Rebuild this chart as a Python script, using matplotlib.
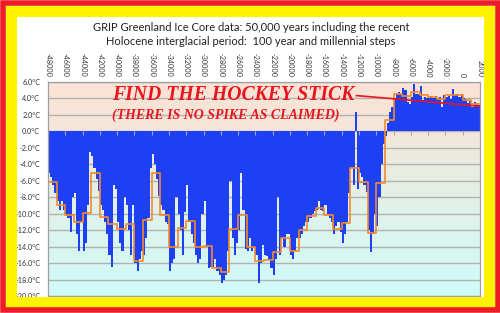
import numpy as np
import matplotlib
matplotlib.use("Agg")
import matplotlib.pyplot as plt
from matplotlib.colors import LinearSegmentedColormap
from matplotlib.patches import Rectangle

# GRIP temperature, 250-year bins starting at -48000
bin_years = np.arange(-48000, 2000, 250)
grip_temp = [
    -5.0, -5.5, -6.5, -7.5,      # -48000
    -8.5, -9.5, -8.5, -9.5,      # -47000
    -10.0, -10.5, -12.2, -8.0,   # -46000
    -7.5, -12.5, -14.5, -11.0,   # -45000
    -14.5, -13.5, -9.0, -2.5,    # -44000
    -3.0, -4.5, -5.8, -7.2,      # -43000
    -9.0, -9.5, -11.0, -12.5,    # -42000
    -15.0, -16.5, -6.5, -7.0,    # -41000
    -11.0, -13.5, -14.5, -8.0,   # -40000
    -9.0, -12.0, -15.0, -9.0,    # -39000
    -16.0, -17.0, -15.5, -14.5,  # -38000
    -15.0, -13.0, -10.5, -4.5,   # -37000
    -2.8, -4.0, -5.8, -7.8,      # -36000
    -9.0, -9.5, -11.0, -11.3,    # -35000
    -17.0, -16.0, -15.5, -8.0,   # -34000
    -10.0, -12.0, -15.0, -9.8,   # -33000
    -6.5, -11.0, -12.5, -13.5,   # -32000
    -15.0, -16.0, -15.5, -10.0,  # -31000
    -8.5, -14.0, -16.6, -16.5,   # -30000
    -16.5, -15.5, -17.0, -17.4,  # -29000
    -18.4, -18.0, -17.5, -14.5,  # -28000
    -6.0, -13.0, -15.0, -13.5,   # -27000
    -12.0, -5.0, -9.5, -14.3,    # -26000
    -14.5, -13.0, -14.5, -14.0,  # -25000
    -15.0, -18.4, -16.0, -13.8,  # -24000
    -15.0, -15.2, -15.6, -16.6,  # -23000
    -17.5, -15.5, -8.0, -15.0,   # -22000
    -13.0, -14.0, -12.5, -12.5,  # -21000
    -15.0, -15.5, -14.5, -13.0,  # -20000
    -13.0, -12.5, -11.5, -11.0,  # -19000
    -11.0, -10.5, -10.0, -9.7,   # -18000
    -9.5, -8.5, -9.5, -9.7,      # -17000
    -9.0, -10.0, -10.5, -11.0,   # -16000
    -12.5, -11.5, -11.0, -12.2,  # -15000
    -13.5, -12.5, -11.0, -7.5,   # -14000
    -4.5, -6.5, 2.4, -7.0,       # -13000
    -5.0, -5.5, -6.5, -7.4,      # -12000
    -12.0, -14.6, -12.5, -10.0,  # -11000
    -11.5, -8.0, -4.0, -1.5,     # -10000
    -0.5, 1.0, 2.3, 3.0,         # -9000
    4.0, 4.6, 4.8, 4.6,          # -8000
    5.3, 5.0, 3.6, 3.3,          # -7000
    4.2, 5.8, 4.6, 4.6,          # -6000
    5.5, 3.8, 4.2, 4.1,          # -5000
    4.2, 4.3, 4.0, 4.3,          # -4000
    4.0, 4.2, 3.0, 4.4,          # -3000
    4.2, 4.3, 3.9, 5.2,          # -2000
    4.4, 4.5, 4.2, 4.5,          # -1000
    4.1, 3.9, 3.5, 3.7,          # 0
    3.0, 3.6, 3.4, 3.2,          # 1000
]

# millennial means
mill_years = np.arange(-48000, 2000, 1000)
mill_temp = [
    -6.2, -8.9, -10.1, -11.0, -9.9, -5.1, -10.4, -11.2, -11.8, -11.2,
    -15.7, -10.8, -5.1, -10.2, -14.1, -11.7, -10.9, -14.1, -13.9, -16.6,
    -17.1, -11.9, -10.2, -14.0, -15.8, -15.6, -14.7, -13.0, -14.5, -12.0,
    -10.3, -9.3, -10.1, -11.8, -11.1, -4.5, -6.1, -12.3, -6.3, 1.4,
    4.5, 4.3, 4.8, 4.4, 4.2, 3.9, 4.4, 4.4, 3.8, 3.3,
]

x_ticks = list(range(-48000, 2001, 2000))
y_ticks = list(range(-20, 7, 2))

# the "hockey stick" pointer
stick_x = [-12300, 2000]
stick_y = [4.35, 3.05]

title = ("GRIP Greenland Ice Core data: 50,000 years including the recent\n"
         "Holocene interglacial period:  100 year and millennial steps")

W, H = 500, 313
fig = plt.figure(figsize=(W / 100, H / 100), dpi=100, facecolor="white")
ax = fig.add_axes([48 / W, (H - 296) / H, 432 / W, 214 / H])

# background gradient
cmap = LinearSegmentedColormap.from_list(
    "bg", [(0.0, "#fbe3d5"), (0.22, "#f6e6da"), (0.3, "#eee9dc"),
           (0.6, "#e0f2ea"), (1.0, "#cffbf9")])
ax.imshow(np.linspace(0, 1, 200).reshape(-1, 1), cmap=cmap, aspect="auto",
          extent=(-48000, 2000, -20, 6), zorder=0)

for yv in y_ticks:
    ax.axhline(yv, color="#b2b2b2", lw=1.0, zorder=0.5)

xs = np.append(bin_years, 2000)
ax.fill_between(xs, np.append(grip_temp, grip_temp[-1]), 0, step="post",
                color="#1f3ff2", lw=0, zorder=1)
ax.step(np.append(mill_years, 2000), np.append(mill_temp, mill_temp[-1]),
        where="post", color="#f58a2a", lw=1.2, zorder=2)

# small ticks on the zero line
ax.vlines(x_ticks, 0, -0.4, color="#a8a8a8", lw=0.8, zorder=1.5)

ax.plot(stick_x, stick_y, color="#e8141e", lw=1.2, zorder=3)

ax.set_xlim(-48000, 2000)
ax.set_ylim(-20, 6)
ax.set_xticks(x_ticks)
ax.set_xticklabels([str(v) for v in x_ticks])
ax.set_yticks(y_ticks)
ax.set_yticklabels(["%.1f°C" % v for v in y_ticks])
ax.xaxis.tick_top()
ax.tick_params(axis="x", length=0, pad=3.5, labelsize=5.2, labelrotation=-90,
               labelcolor="#333333")
ax.tick_params(axis="y", length=0, pad=5.5, labelsize=5.2, labelcolor="#333333")
for lab in ax.get_xticklabels() + ax.get_yticklabels():
    lab.set_family("Lato")
for s in ax.spines.values():
    s.set_color("#a0a0a0")
    s.set_linewidth(0.9)

fig.text(0.502, 0.89, title, ha="center", va="center", fontsize=8.0,
         family="Lato", color="#222222", linespacing=1.3)

fig.text(112 / W, 1 - 95 / H, "FIND THE HOCKEY STICK", ha="left", va="center",
         fontsize=14.2, family="Liberation Serif", weight="bold", style="italic",
         color="#e8141e")
fig.text(112 / W, 1 - 115 / H, "(THERE IS NO SPIKE AS CLAIMED)", ha="left",
         va="center", fontsize=10.0, family="Liberation Serif", weight="bold",
         style="italic", color="#e8141e")

# yellow and red frame around the picture
fig.patches.append(Rectangle((10.5 / W, 11 / H), 478.5 / W, 291.5 / H, fill=False,
                             ec="#fff200", lw=7.9, transform=fig.transFigure,
                             zorder=5))
fig.patches.append(Rectangle((2.5 / W, 2.75 / H), 495 / W, 307.75 / H, fill=False,
                             ec="#ee1c25", lw=4.0, transform=fig.transFigure,
                             zorder=6))

fig.savefig("out.png", dpi=100)
